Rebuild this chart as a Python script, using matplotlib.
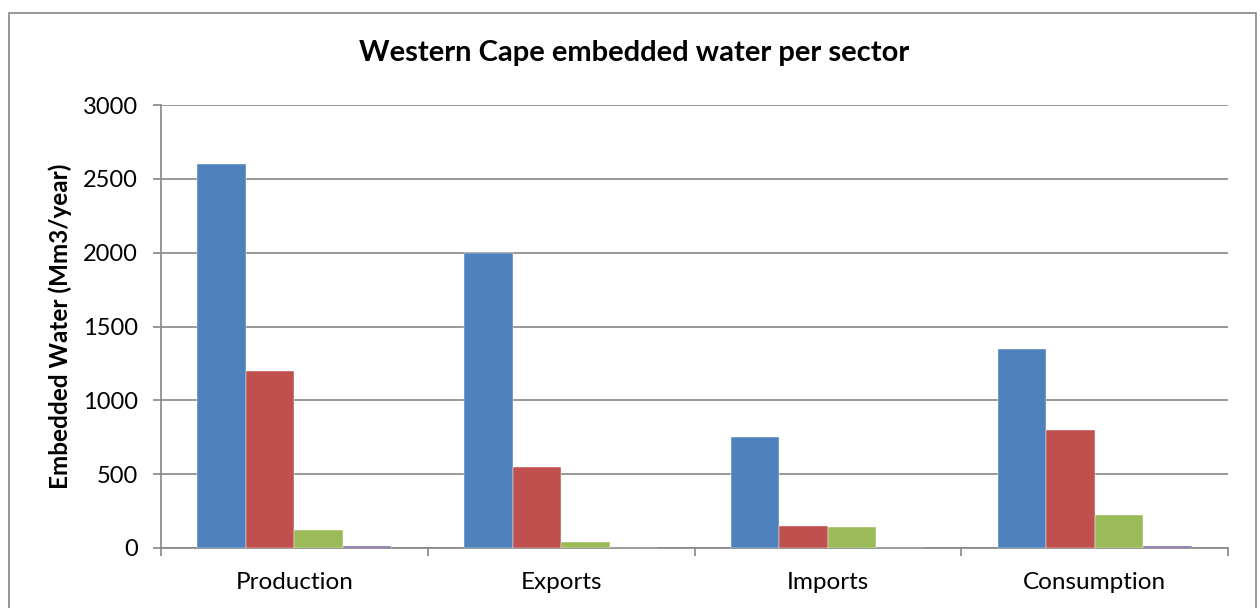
import matplotlib.pyplot as plt
import matplotlib.patches as patches
import numpy as np

# data
sectors = ["Production", "Exports", "Imports", "Consumption"]
series_1 = [2600, 2000, 750, 1350]
series_2 = [1200, 550, 150, 800]
series_3 = [125, 40, 140, 225]
series_4 = [15, 0, 0, 15]
yticks = [0, 500, 1000, 1500, 2000, 2500, 3000]

colors = ["#4F81BD", "#C0504D", "#9BBB59", "#8064A2"]
grey = "#868686"

plt.rcParams["font.family"] = ["Lato", "DejaVu Sans"]

fig = plt.figure(figsize=(12.6, 6.08), dpi=100)
ax = fig.add_axes([161 / 1260, 1 - 548 / 608, (1228 - 161) / 1260, (548 - 105) / 608])

# outer chart frame
fig.patches.append(patches.Rectangle((9 / 1260, -0.05), (1256 - 9) / 1260, 1 - 13 / 608 + 0.05,
                                     transform=fig.transFigure, fill=False,
                                     edgecolor=grey, linewidth=1.2))

x = np.arange(len(sectors))
w = 0.182
for i, vals in enumerate([series_1, series_2, series_3, series_4]):
    ax.bar(x + (i - 1.5) * w, vals, width=w, color=colors[i],
           edgecolor="white", linewidth=0.3, zorder=3)

ax.set_xlim(-0.5, len(sectors) - 0.5)
ax.set_ylim(0, 3000)
ax.set_yticks(yticks)
ax.set_yticklabels([str(t) for t in yticks], fontsize=17)
ax.yaxis.grid(True, color=grey, linewidth=1.2, zorder=0)

ax.set_xticks(np.arange(-0.5, len(sectors), 1.0))
ax.set_xticklabels([])
ax.set_xticks(x, minor=True)
ax.set_xticklabels(sectors, minor=True, fontsize=17.5)
ax.tick_params(axis="x", which="minor", length=0, pad=17)
ax.tick_params(axis="x", which="major", length=5.5, color=grey, width=1.2)
ax.tick_params(axis="y", length=5.5, color=grey, width=1.2, pad=11)

for s in ["top", "right"]:
    ax.spines[s].set_visible(False)
for s in ["left", "bottom"]:
    ax.spines[s].set_color(grey)
    ax.spines[s].set_linewidth(1.2)

ax.set_ylabel("Embedded Water (Mm3/year)", fontsize=17.5, fontweight="bold", labelpad=8)
fig.text(634 / 1260, 1 - 53 / 608, "Western Cape embedded water per sector",
         ha="center", va="center", fontsize=21, fontweight="bold")

fig.savefig("out.png", dpi=100)
